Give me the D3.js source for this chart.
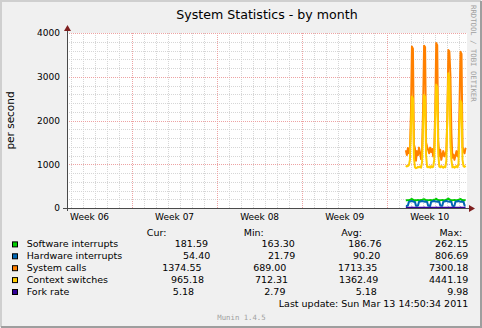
<!DOCTYPE html>
<html>
<head>
<meta charset="utf-8">
<script src="https://cdn.jsdelivr.net/npm/d3@7"></script>
<style>
body { margin: 0; background: #fff; }
svg text { font-family: "DejaVu Sans", sans-serif; }
</style>
</head>
<body>
<svg id="chart" width="482" height="328"></svg>
<script>

// samples: one every 2 hours, starting Tue Mar 8 14:00
var firstSample = Date.UTC(2011, 2, 8, 14, 0);
var sampleStep = 2 * 3600 * 1000;

var softIrq = [178,176,180,182,185,195,205,190,180,178,
	176,179,181,180,178,182,186,196,200,188,
	181,179,177,180,182,179,178,181,187,198,
	210,192,182,178,176,180,181,178,179,183,
	188,200,215,195,183,179,177,180,182,180,
	178,181,186,197,205,190,182,180,179,181.59];

var hardIrq = [50,48,55,140,150,155,160,150,145,140,
	52,50,55,145,150,150,160,155,150,145,
	148,140,50,52,48,140,150,155,160,150,
	148,145,150,142,55,50,52,145,150,155,
	165,150,148,145,150,140,50,48,52,145,
	150,150,160,150,145,148,140,142,55,54.4];

var sysCalls = [1320,1210,1370,1250,1300,2150,
	3690,3640,1450,1360,1080,1300,1210,1380,1260,1120,1310,2250,
	3710,3680,1500,1400,1330,1250,1380,1280,1350,1180,1320,2200,
	3770,3720,1550,1180,1330,1100,1220,1300,1180,1240,1300,2100,
	3610,3580,3050,1700,1150,1220,1100,1200,1300,1180,1250,2300,
	3570,3520,1400,1300,1250,1374.55];

var ctxSwitch = [970,950,960,980,1100,1800,
	2550,2500,1150,930,910,920,940,930,950,920,1050,1900,
	2580,2540,1200,940,930,950,920,960,930,940,1100,2000,
	2820,2750,1250,950,930,960,940,920,950,930,1080,2100,
	3080,3000,1500,1100,930,950,920,940,960,930,1000,1900,
	2450,2400,1100,950,940,965.18];

var forkRate = [4.8,4.5,5.0,5.2,5.6,6.8,9.2,7.1,5.0,4.6,
	4.2,4.5,4.9,5.1,4.7,4.6,5.3,6.5,8.8,6.9,
	5.1,4.4,4.3,4.6,5.0,4.8,4.7,5.2,5.5,6.6,
	9.5,7.0,4.9,4.5,4.1,4.4,4.8,5.0,4.6,4.9,
	5.4,6.7,9.98,7.3,5.1,4.5,4.2,4.6,4.8,5.1,
	4.7,4.9,5.3,6.4,9.0,6.8,4.9,4.6,4.8,5.18];

var labels = ['Software interrupts', 'Hardware interrupts', 'System calls', 'Context switches', 'Fork rate'];
var colors = ['#00CC00', '#0066B3', '#FF8000', '#FFCC00', '#330099'];
var curVals = [181.59, 54.40, 1374.55, 965.18, 5.18];
var minVals = [163.30, 21.79, 689.00, 712.31, 2.79];
var avgVals = [186.76, 90.20, 1713.35, 1362.49, 5.18];
var maxVals = [262.15, 806.69, 7300.18, 4441.19, 9.98];

var yTicks = [0, 1000, 2000, 3000, 4000];
var timeStart = Date.UTC(2011, 1, 8, 16, 20);
var timeEnd = Date.UTC(2011, 2, 13, 14, 50);

var series = [softIrq, hardIrq, sysCalls, ctxSwitch, forkRate];

var W = 482, H = 328;
var plotL = 67, plotR = 467, plotT = 33, plotB = 208;

var svg = d3.select('#chart');

// background + 3d frame
svg.append('rect').attr('width', W).attr('height', H).attr('fill', '#F0F0F0');
svg.append('path').attr('d', 'M1,327V1H481').attr('fill', 'none').attr('stroke', '#CFCFCF').attr('stroke-width', 2);
svg.append('path').attr('d', 'M1,327H481V1').attr('fill', 'none').attr('stroke', '#9E9E9E').attr('stroke-width', 2);

svg.append('rect').attr('x', plotL).attr('y', plotT).attr('width', plotR - plotL).attr('height', plotB - plotT).attr('fill', '#fff');

var x = d3.scaleUtc().domain([timeStart, timeEnd]).range([plotL, plotR]);
var y = d3.scaleLinear().domain([0, 4000]).range([plotB, plotT]);

// grid
var grid = svg.append('g').attr('stroke-width', 1).attr('stroke-dasharray', '1,1').attr('fill', 'none');
var minorY = d3.range(0, 4001, 200).filter(function (v) { return v % 1000 != 0; });
grid.selectAll('.hmin').data(minorY).enter().append('line')
	.attr('x1', plotL).attr('x2', plotR)
	.attr('y1', function (d) { return Math.round(y(d)) + 0.5; })
	.attr('y2', function (d) { return Math.round(y(d)) + 0.5; })
	.attr('stroke', '#D6D6D6');
var days = d3.utcDay.range(timeStart, timeEnd).filter(function (d) { return d.getUTCDay() != 1; });
grid.selectAll('.vmin').data(days).enter().append('line')
	.attr('y1', plotT).attr('y2', plotB)
	.attr('x1', function (d) { return Math.round(x(d)) + 0.5; })
	.attr('x2', function (d) { return Math.round(x(d)) + 0.5; })
	.attr('stroke', '#D6D6D6');
grid.selectAll('.hmaj').data(yTicks.slice(1)).enter().append('line')
	.attr('x1', plotL).attr('x2', plotR)
	.attr('y1', function (d) { return Math.round(y(d)) + 0.5; })
	.attr('y2', function (d) { return Math.round(y(d)) + 0.5; })
	.attr('stroke', '#EDA3A3');
var weeks = d3.utcMonday.range(timeStart, timeEnd);
grid.selectAll('.vmaj').data(weeks).enter().append('line')
	.attr('y1', plotT).attr('y2', plotB)
	.attr('x1', function (d) { return Math.round(x(d)) + 0.5; })
	.attr('x2', function (d) { return Math.round(x(d)) + 0.5; })
	.attr('stroke', '#EDA3A3');

// data lines, drawn in rrd order
var line = d3.line()
	.x(function (d, i) { return x(firstSample + i * sampleStep); })
	.y(function (d) { return y(d); });
svg.append('g').selectAll('path').data(series).enter().append('path')
	.attr('d', function (d) { return line(d); })
	.attr('fill', 'none')
	.attr('stroke', function (d, i) { return colors[i]; })
	.attr('stroke-width', 2)
	.attr('stroke-linejoin', 'round');

// axes
svg.append('line').attr('x1', 63).attr('x2', 470).attr('y1', plotB + 0.5).attr('y2', plotB + 0.5).attr('stroke', '#4A4A4A');
svg.append('line').attr('x1', plotL + 0.5).attr('x2', plotL + 0.5).attr('y1', 211).attr('y2', 29).attr('stroke', '#4A4A4A');
svg.append('path').attr('d', 'M469,205L475,208.5L469,212Z').attr('fill', '#7F1F1F');
svg.append('path').attr('d', 'M64,31L67.5,25L71,31Z').attr('fill', '#7F1F1F');

var yAxis = svg.append('g').attr('transform', 'translate(' + plotL + ',0)')
	.call(d3.axisLeft(y).tickValues(yTicks).tickSize(0).tickPadding(7).tickFormat(d3.format('d')));
yAxis.select('.domain').remove();
yAxis.selectAll('text').attr('font-size', 9).attr('fill', '#000').style('font-family', '"DejaVu Sans", sans-serif');

var weekLabels = d3.utcMonday.range(d3.utcMonday.floor(timeStart), timeEnd)
	.map(function (d) { return d3.utcHour.offset(d, 84); });
var xAxis = svg.append('g').attr('transform', 'translate(0,' + plotB + ')')
	.call(d3.axisBottom(x).tickValues(weekLabels).tickSize(0).tickPadding(5.5).tickFormat(d3.utcFormat('Week %V')));
xAxis.select('.domain').remove();
xAxis.selectAll('text').attr('font-size', 9).attr('fill', '#000').style('font-family', '"DejaVu Sans", sans-serif');

// titles and watermarks
svg.append('text').attr('x', (plotL + plotR) / 2).attr('y', 18.5).attr('text-anchor', 'middle')
	.attr('font-size', 12.6).text('System Statistics - by month');
svg.append('text').attr('transform', 'translate(13.5,' + (plotT + plotB) / 2 + ') rotate(-90)')
	.attr('text-anchor', 'middle').attr('font-size', 10.5).text('per second');
svg.append('text').attr('transform', 'translate(471,5) rotate(90)')
	.attr('font-size', 7.3).attr('fill', '#A0A0A0').style('font-family', '"DejaVu Sans Mono", monospace')
	.text('RRDTOOL / TOBI OETIKER');
svg.append('text').attr('x', 241.5).attr('y', 319.5).attr('text-anchor', 'middle')
	.attr('font-size', 7.3).attr('fill', '#A0A0A0').style('font-family', '"DejaVu Sans Mono", monospace')
	.text('Munin 1.4.5');

// legend, justified like rrdtool's \j
var legLeft = 12, legRight = 468.3, boxSpace = 14.7, legFont = 9.5;
var fmt = d3.format('6.2f');

function justifyRow(items, yBase, firstOffset) {
	var g = svg.append('g');
	var texts = items.map(function (s) {
		return g.append('text').attr('y', yBase).attr('font-size', legFont)
			.attr('xml:space', 'preserve').style('white-space', 'pre').text(s);
	});
	var widths = texts.map(function (t) { return t.node().getComputedTextLength(); });
	widths[0] += firstOffset;
	var gap = (legRight - legLeft - d3.sum(widths)) / (items.length - 1);
	var pos = legLeft;
	texts.forEach(function (t, i) {
		t.attr('x', pos + (i == 0 ? firstOffset : 0));
		pos += widths[i] + gap;
	});
}

var rowY = 235.5, rowStep = 11.9;
justifyRow([' '.repeat(19), 'Cur:', 'Min:', 'Avg:', 'Max:  '], rowY, 0);
labels.forEach(function (lab, i) {
	var by = rowY + rowStep * (i + 1);
	svg.append('rect').attr('x', legLeft + 0.5).attr('y', by - 5.5).attr('width', 5).attr('height', 5)
		.attr('fill', colors[i]).attr('stroke', '#000').attr('stroke-width', 1);
	justifyRow([lab + ' '.repeat(20 - lab.length), fmt(curVals[i]), fmt(minVals[i]), fmt(avgVals[i]), fmt(maxVals[i])], by, boxSpace);
});
svg.append('text').attr('x', legRight).attr('y', rowY + rowStep * 6).attr('text-anchor', 'end')
	.attr('font-size', legFont).text('Last update: Sun Mar 13 14:50:34 2011');

</script>
</body>
</html>
